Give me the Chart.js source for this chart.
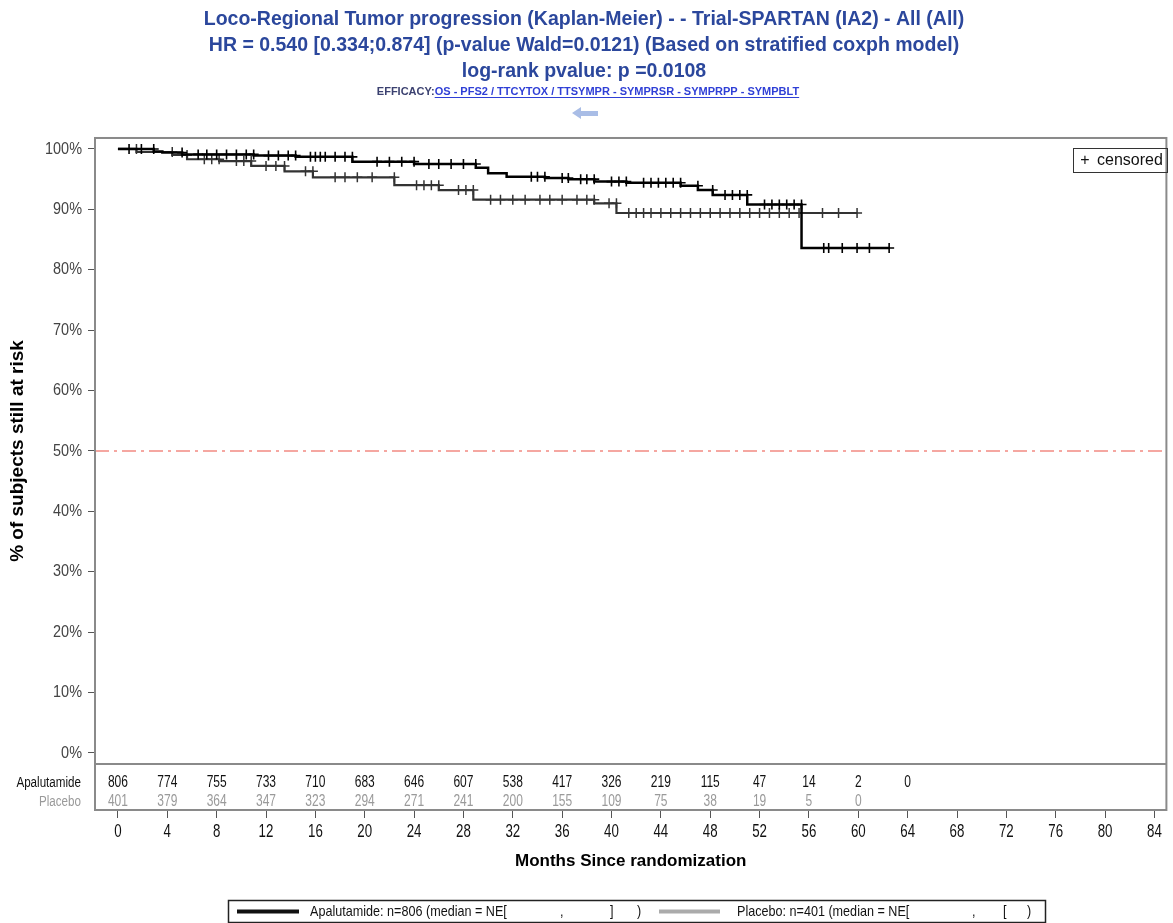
<!DOCTYPE html>
<html>
<head>
<meta charset="utf-8">
<script src="https://cdn.jsdelivr.net/npm/chart.js@4.4.1/dist/chart.umd.min.js"></script>
<style>
  body { margin: 0; background: #fff; }
  canvas { display: block; }
</style>
</head>
<body>
<canvas id="chart" width="1173" height="923"></canvas>
<script>
// Kaplan-Meier steps (cens = 1 marks a censored subject)
const apaTime = [0, 0.9, 1.9, 2.9, 3.6, 4.6, 5.2, 6.0, 6.5, 7.2, 8.0, 8.8, 9.6, 10.4, 11.0, 11.5, 12.2, 13.0, 13.8, 14.4,
  15.0, 15.6, 16.0, 16.4, 16.8, 17.6, 18.4, 19.0, 19.8, 21.0, 22.0, 23.0, 24.0, 24.5, 25.2, 26.0, 27.0, 28.0, 29.0,
  30.0, 31.5, 32.8, 33.5, 34.0, 34.6, 35.5, 36.0, 36.5, 37.0, 37.5, 38.0, 38.6, 39.3, 40.0, 40.6, 41.2, 42.0, 42.6,
  43.2, 43.8, 44.4, 45.0, 45.6, 46.3, 47.0, 47.6, 48.2, 48.7, 49.2, 49.8, 50.4, 51.0, 51.8, 52.4, 53.0, 53.6, 54.2,
  54.8, 55.4, 56.0, 57.2, 57.6, 58.7, 59.9, 60.9, 62.5];
const apaSurv = [100, 100, 100, 100, 99.6, 99.4, 99.4, 99.1, 99.1, 99.1, 99.1, 99.1, 99.1, 99.1, 99.1, 98.9, 98.9, 98.9, 98.9, 98.9,
  98.7, 98.7, 98.7, 98.7, 98.7, 98.7, 98.7, 98.7, 97.9, 97.9, 97.9, 97.9, 97.9, 97.5, 97.5, 97.5, 97.5, 97.5, 97.5,
  96.9, 96.0, 95.4, 95.4, 95.4, 95.4, 95.2, 95.2, 95.2, 95.0, 95.0, 95.0, 95.0, 94.6, 94.6, 94.6, 94.6, 94.4, 94.4,
  94.4, 94.4, 94.4, 94.4, 94.4, 93.9, 93.9, 93.2, 93.2, 92.4, 92.4, 92.4, 92.4, 92.4, 90.8, 90.8, 90.8, 90.8, 90.8,
  90.8, 90.8, 83.6, 83.6, 83.6, 83.6, 83.6, 83.6, 83.6];
const apaCens = [0, 1, 1, 1, 0, 0, 1, 0, 1, 1, 1, 1, 1, 1, 1, 0, 1, 1, 1, 1,
  0, 1, 1, 1, 1, 1, 1, 1, 0, 1, 1, 1, 1, 0, 1, 1, 1, 1, 1,
  0, 0, 0, 1, 1, 1, 0, 1, 1, 0, 1, 1, 1, 0, 1, 1, 1, 0, 1,
  1, 1, 1, 1, 1, 0, 1, 0, 1, 0, 1, 1, 1, 1, 0, 1, 1, 1, 1,
  1, 1, 0, 1, 1, 1, 1, 1, 1];

const plaTime = [0, 1.5, 3.8, 4.4, 5.0, 5.6, 6.5, 7.0, 7.6, 8.2, 9.0, 9.6, 10.2, 10.8, 11.2, 12.0, 12.8, 13.5, 14.5, 15.2,
  15.8, 17.0, 17.6, 18.4, 19.4, 20.6, 22.4, 23.5, 24.2, 24.8, 25.4, 26.0, 27.0, 27.6, 28.2, 28.8, 29.4, 30.2, 31.0,
  32.0, 33.0, 34.2, 35.0, 36.0, 37.2, 38.0, 38.6, 39.2, 39.8, 40.4, 40.8, 41.4, 42.0, 42.6, 43.2, 44.0, 44.8, 45.6,
  46.4, 47.2, 48.0, 48.8, 49.6, 50.4, 51.2, 52.0, 52.8, 53.6, 54.4, 55.2, 57.1, 58.4, 59.9];
const plaSurv = [100, 100, 99.5, 99.5, 99.0, 99.0, 98.3, 98.3, 98.3, 98.3, 98.0, 98.0, 98.0, 98.0, 97.2, 97.2, 97.2, 97.2, 96.3, 96.3,
  96.3, 95.3, 95.3, 95.3, 95.3, 95.3, 95.3, 94.0, 94.0, 94.0, 94.0, 94.0, 93.2, 93.2, 93.2, 93.2, 91.6, 91.6, 91.6,
  91.6, 91.6, 91.6, 91.6, 91.6, 91.6, 91.6, 91.6, 91.0, 91.0, 91.0, 89.4, 89.4, 89.4, 89.4, 89.4, 89.4, 89.4, 89.4,
  89.4, 89.4, 89.4, 89.4, 89.4, 89.4, 89.4, 89.4, 89.4, 89.4, 89.4, 89.4, 89.4, 89.4, 89.4];
const plaCens = [0, 1, 0, 1, 0, 1, 0, 1, 1, 1, 0, 1, 1, 1, 0, 1, 1, 1, 0, 1,
  1, 0, 1, 1, 1, 1, 1, 0, 1, 1, 1, 1, 0, 1, 1, 1, 0, 1, 1,
  1, 1, 1, 1, 1, 1, 1, 1, 0, 1, 1, 0, 1, 1, 1, 1, 1, 1, 1,
  1, 1, 1, 1, 1, 1, 1, 1, 1, 1, 1, 1, 1, 1, 1];

// numbers at risk
const riskTimes = [0, 4, 8, 12, 16, 20, 24, 28, 32, 36, 40, 44, 48, 52, 56, 60, 64];
const apaRisk = [806, 774, 755, 733, 710, 683, 646, 607, 538, 417, 326, 219, 115, 47, 14, 2, 0];
const plaRisk = [401, 379, 364, 347, 323, 294, 271, 241, 200, 155, 109, 75, 38, 19, 5, 0];

const xTicks = [0, 4, 8, 12, 16, 20, 24, 28, 32, 36, 40, 44, 48, 52, 56, 60, 64, 68, 72, 76, 80, 84];
const yTicks = [0, 10, 20, 30, 40, 50, 60, 70, 80, 90, 100];
const medianLine = 50;

const sans = "'Liberation Sans', Arial, sans-serif";

const toPoints = (times, surv) => times.map((t, i) => ({ x: t, y: surv[i] }));

// no narrow font installed, so squeeze Liberation Sans horizontally
function narrowText(ctx, str, x, y, align, sx) {
  ctx.save();
  ctx.translate(x, y);
  ctx.scale(sx, 1);
  ctx.textAlign = align;
  ctx.fillText(str, 0, 0);
  ctx.restore();
}

const extras = {
  id: 'extras',
  beforeDatasetsDraw(chart) {
    const { ctx, chartArea: a, scales: { y } } = chart;
    const py = y.getPixelForValue(medianLine);
    ctx.save();
    ctx.strokeStyle = '#f28b82';
    ctx.lineWidth = 1.5;
    ctx.setLineDash([14, 5, 3, 5]);
    ctx.beginPath();
    ctx.moveTo(a.left, py);
    ctx.lineTo(a.right, py);
    ctx.stroke();
    ctx.restore();
  },
  afterDraw(chart) {
    const { ctx, chartArea: a, scales: { x, y } } = chart;
    ctx.save();

    // frame + at-risk separator
    ctx.strokeStyle = '#8a8a8a';
    ctx.lineWidth = 2;
    ctx.strokeRect(a.left, a.top, a.right - a.left, a.bottom - a.top);
    ctx.beginPath();
    ctx.moveTo(a.left, a.bottom - 46);
    ctx.lineTo(a.right, a.bottom - 46);
    ctx.stroke();

    ctx.textBaseline = 'middle';

    // tick labels
    ctx.font = '17px ' + sans;
    ctx.fillStyle = '#444';
    yTicks.forEach(v => narrowText(ctx, v + '%', 82, y.getPixelForValue(v), 'right', 0.85));
    ctx.font = '19px ' + sans;
    ctx.fillStyle = '#111';
    xTicks.forEach(v => narrowText(ctx, String(v), x.getPixelForValue(v), 832, 'center', 0.7));

    // y axis title, centred on the 0-100% range
    ctx.save();
    ctx.translate(18, (y.getPixelForValue(0) + y.getPixelForValue(100)) / 2);
    ctx.rotate(-Math.PI / 2);
    ctx.font = 'bold 19px ' + sans;
    ctx.fillStyle = '#000';
    ctx.textAlign = 'center';
    ctx.fillText('% of subjects still at risk', 0, 0);
    ctx.restore();

    // at-risk table
    ctx.font = '14px ' + sans;
    ctx.fillStyle = '#111';
    narrowText(ctx, 'Apalutamide', 81, a.bottom - 27, 'right', 0.83);
    ctx.fillStyle = '#9a9a9a';
    narrowText(ctx, 'Placebo', 81, a.bottom - 8, 'right', 0.83);
    ctx.font = '16px ' + sans;
    ctx.fillStyle = '#111';
    apaRisk.forEach((n, i) => narrowText(ctx, String(n), x.getPixelForValue(riskTimes[i]), a.bottom - 27, 'center', 0.75));
    ctx.fillStyle = '#9a9a9a';
    plaRisk.forEach((n, i) => narrowText(ctx, String(n), x.getPixelForValue(riskTimes[i]), a.bottom - 8, 'center', 0.75));

    // censored legend (top right)
    ctx.strokeStyle = '#333';
    ctx.lineWidth = 1;
    ctx.strokeRect(1073.5, 148.5, 94, 24);
    ctx.fillStyle = '#111';
    ctx.font = '16px ' + sans;
    narrowText(ctx, '+', 1085, 161, 'center', 1);
    narrowText(ctx, 'censored', 1097, 161, 'left', 1);

    // efficacy links line + back arrow
    ctx.textAlign = 'left';
    ctx.font = 'bold 11px ' + sans;
    const head = 'EFFICACY:';
    const links = 'OS - PFS2 / TTCYTOX / TTSYMPR - SYMPRSR - SYMPRPP - SYMPBLT';
    const wHead = ctx.measureText(head).width;
    const wLinks = ctx.measureText(links).width;
    const x0 = 588 - (wHead + wLinks) / 2;
    ctx.fillStyle = '#3b4170';
    ctx.fillText(head, x0, 92);
    ctx.fillStyle = '#2f3fd6';
    ctx.fillText(links, x0 + wHead, 92);
    ctx.fillRect(x0 + wHead, 97, wLinks, 1);

    ctx.fillStyle = '#a9bde6';
    ctx.beginPath();
    ctx.moveTo(572, 113);
    ctx.lineTo(581, 107);
    ctx.lineTo(581, 111);
    ctx.lineTo(598, 111);
    ctx.lineTo(598, 116);
    ctx.lineTo(581, 116);
    ctx.lineTo(581, 119);
    ctx.closePath();
    ctx.fill();

    // bottom legend
    ctx.strokeStyle = '#222';
    ctx.lineWidth = 1.5;
    ctx.strokeRect(228.5, 900.5, 817, 22);
    const ly = 911.5;
    ctx.lineWidth = 4;
    ctx.strokeStyle = '#111';
    ctx.beginPath();
    ctx.moveTo(237, ly);
    ctx.lineTo(299, ly);
    ctx.stroke();
    ctx.strokeStyle = '#ababab';
    ctx.beginPath();
    ctx.moveTo(659, ly);
    ctx.lineTo(720, ly);
    ctx.stroke();
    ctx.fillStyle = '#111';
    ctx.font = '15px ' + sans;
    narrowText(ctx, 'Apalutamide: n=806 (median = NE[', 310, ly, 'left', 0.84);
    narrowText(ctx, ',', 560, ly, 'left', 0.84);
    narrowText(ctx, ']', 610, ly, 'left', 0.84);
    narrowText(ctx, ')', 637, ly, 'left', 0.84);
    narrowText(ctx, 'Placebo: n=401 (median = NE[', 737, ly, 'left', 0.84);
    narrowText(ctx, ',', 972, ly, 'left', 0.84);
    narrowText(ctx, '[', 1003, ly, 'left', 0.84);
    narrowText(ctx, ')', 1027, ly, 'left', 0.84);

    ctx.restore();
  }
};

new Chart(document.getElementById('chart'), {
  type: 'line',
  data: {
    datasets: [
      {
        label: 'Apalutamide',
        data: toPoints(apaTime, apaSurv),
        stepped: 'after',
        borderColor: '#000',
        borderWidth: 2.5,
        pointStyle: 'cross',
        pointRadius: ctx => (apaCens[ctx.dataIndex] ? 5 : 0),
        pointBorderColor: '#000',
        pointBorderWidth: 1.6,
      },
      {
        label: 'Placebo',
        data: toPoints(plaTime, plaSurv),
        stepped: 'after',
        borderColor: '#333',
        borderWidth: 2.2,
        pointStyle: 'cross',
        pointRadius: ctx => (plaCens[ctx.dataIndex] ? 5 : 0),
        pointBorderColor: '#333',
        pointBorderWidth: 1.5,
      },
    ],
  },
  options: {
    responsive: false,
    animation: false,
    layout: { padding: { left: 0, right: 5, top: 0, bottom: 0 } },
    plugins: {
      legend: { display: false },
      tooltip: { enabled: false },
      title: {
        display: true,
        text: [
          'Loco-Regional Tumor progression (Kaplan-Meier) - - Trial-SPARTAN (IA2) - All (All)',
          'HR = 0.540 [0.334;0.874] (p-value Wald=0.0121) (Based on stratified coxph model)',
          'log-rank pvalue: p =0.0108',
        ],
        color: '#2b479c',
        font: { family: sans, size: 19.5, weight: 'bold', lineHeight: 1.333 },
        padding: { top: 7, bottom: 53 },
      },
    },
    scales: {
      x: {
        type: 'linear',
        min: -1.86,
        max: 84.97,
        afterBuildTicks: s => { s.ticks = xTicks.map(v => ({ value: v })); },
        afterFit: s => { s.height = 113; },
        grid: { drawOnChartArea: false, tickLength: 8, color: '#555' },
        border: { color: '#8a8a8a', width: 2 },
        ticks: { display: false },
        title: {
          display: true,
          text: 'Months Since randomization',
          color: '#000',
          font: { family: sans, size: 17, weight: 'bold' },
          padding: { top: 0, bottom: 51 },
        },
      },
      y: {
        min: -9.44,
        max: 101.82,
        afterBuildTicks: s => { s.ticks = yTicks.map(v => ({ value: v })); },
        afterFit: s => { s.width = 95; },
        grid: { drawOnChartArea: false, tickLength: 7, color: '#555' },
        border: { color: '#8a8a8a', width: 2 },
        ticks: { display: false },
      },
    },
  },
  plugins: [extras],
});
</script>
</body>
</html>
